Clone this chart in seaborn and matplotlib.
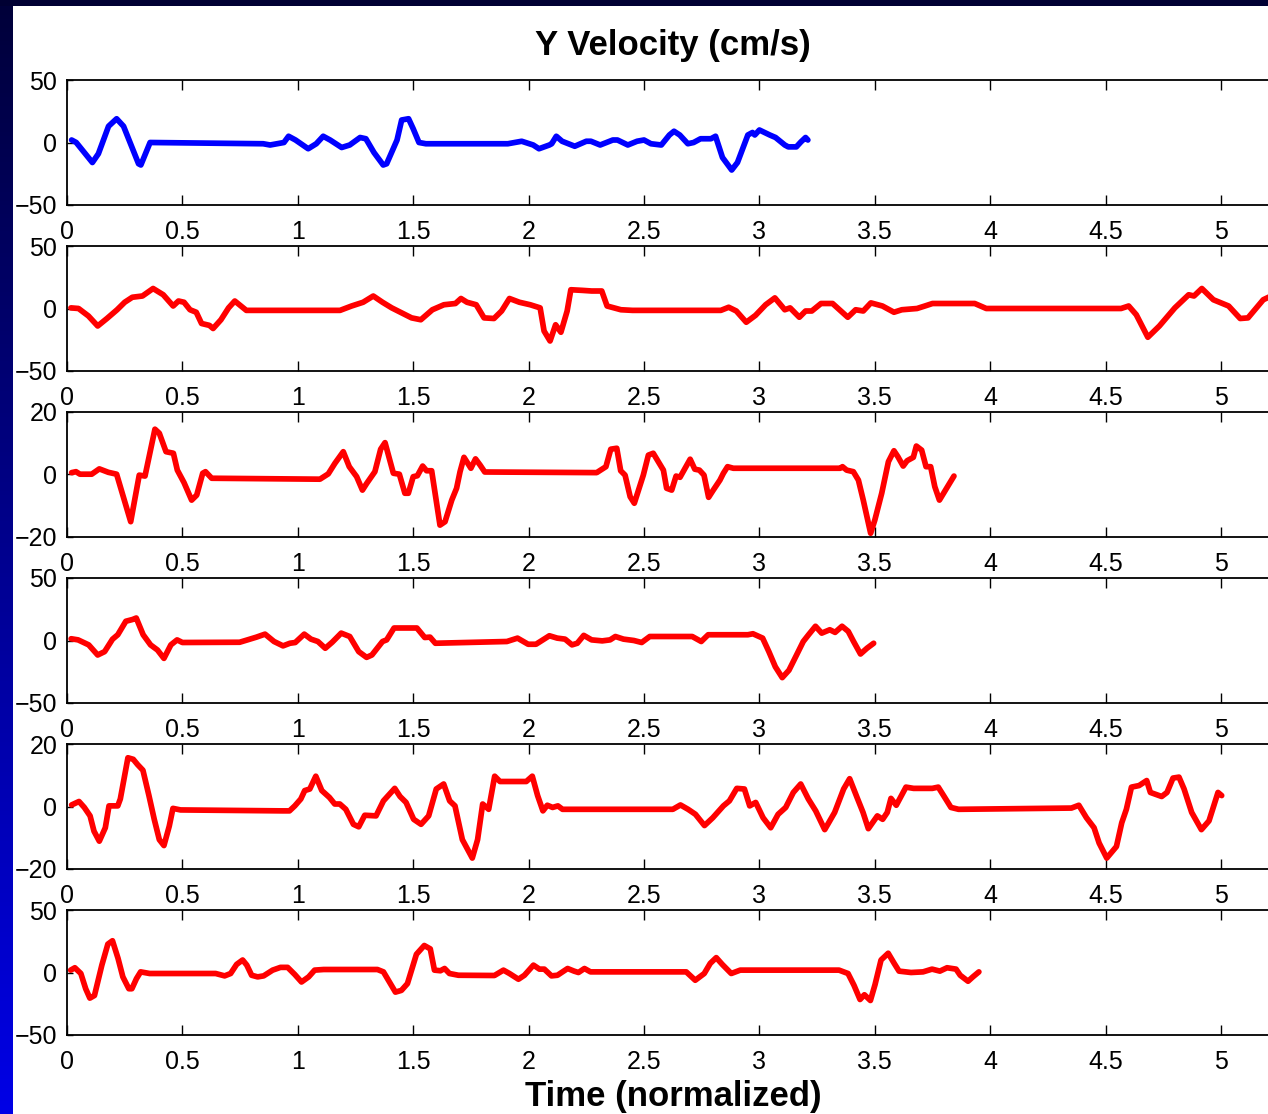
import numpy as np
import pandas as pd
import matplotlib
matplotlib.use("Agg")
import matplotlib.pyplot as plt
import seaborn as sns

sns.set_style("white")
plt.rcParams['font.family'] = ['Liberation Sans', 'DejaVu Sans']
plt.rcParams['text.color'] = 'black'
plt.rcParams['axes.labelcolor'] = 'black'

# trial 1 (blue)
t1 = [0.02, 0.04, 0.11, 0.136, 0.18, 0.215, 0.245, 0.31, 0.32, 0.36, 0.85, 0.88, 0.91, 0.94, 0.96, 0.99,
      1.045, 1.08, 1.11, 1.14, 1.19, 1.225, 1.27, 1.295, 1.33, 1.37, 1.385, 1.43, 1.45, 1.48, 1.50, 1.525,
      1.555, 1.91, 1.97, 2.02, 2.045, 2.09, 2.10, 2.12, 2.145, 2.2, 2.25, 2.27, 2.31, 2.365, 2.385, 2.43,
      2.47, 2.50, 2.53, 2.575, 2.61, 2.63, 2.655, 2.69, 2.715, 2.745, 2.79, 2.81, 2.84, 2.88, 2.905, 2.95,
      2.97, 2.98, 3.0, 3.045, 3.07, 3.11, 3.125, 3.16, 3.18, 3.2, 3.21]
v1 = [2, 0, -16, -9, 13, 19, 13, -17, -18, 0, -1, -2, -1, 0, 5, 2,
      -5, -1, 5, 2, -4, -2, 4, 3, -8, -18, -17, 2, 18, 19, 11, 0,
      -1, -1, 1, -2, -5, -2, -1, 5, 1, -3, 1, 1, -2, 2, 2, -2,
      1, 2, -1, -2, 6, 9, 6, -1, 0, 3, 3, 5, -12, -22, -16, 6,
      8, 6, 10, 6, 4, -2, -3.5, -3.5, 0.5, 4, 2]

# trial 2
t2 = [0.017, 0.05, 0.093, 0.133, 0.173, 0.217, 0.25, 0.283, 0.327, 0.373, 0.417, 0.46, 0.483, 0.507,
      0.533, 0.56, 0.583, 0.617, 0.633, 0.667, 0.70, 0.727, 0.777, 1.183, 1.233, 1.283, 1.327, 1.367,
      1.407, 1.45, 1.493, 1.533, 1.583, 1.633, 1.683, 1.707, 1.733, 1.773, 1.807, 1.85, 1.883, 1.917,
      1.96, 2.007, 2.05, 2.067, 2.093, 2.117, 2.14, 2.167, 2.183, 2.233, 2.273, 2.317, 2.34, 2.40, 2.45,
      2.833, 2.867, 2.9, 2.943, 2.983, 3.027, 3.067, 3.11, 3.133, 3.173, 3.20, 3.227, 3.267, 3.317,
      3.383, 3.417, 3.45, 3.483, 3.533, 3.583, 3.617, 3.683, 3.717, 3.75, 3.933, 3.983, 4.567, 4.6,
      4.633, 4.683, 4.733, 4.8, 4.86, 4.883, 4.917, 4.967, 5.033, 5.083, 5.117, 5.183, 5.24]
v2 = [0.5, 0, -6, -14, -8, -1, 5, 9, 10, 16, 11, 2, 6, 5,
      -1, -3, -12, -13.5, -16, -9, 0.5, 6, -1.5, -1.5, 2, 5, 10, 5,
      0.5, -3.5, -7.5, -9, -1, 3, 4, 8, 5, 3, -7.5, -8, -2, 8,
      5, 3, 0.5, -18, -26, -13, -19, -2, 15, 14.5, 14, 14, 2, -1, -1.5,
      -1.5, 1, -2, -11, -5.5, 3, 8.5, -1, 0.5, -7, -2, -2, 4, 4,
      -7, -1, -2, 4.5, 2, -3, -1, 0, 2, 4, 4, 0, 0, 2,
      -5, -23, -14, 0.5, 11, 10, 16, 7, 2, -8, -7.5, 7, 12]

# trial 3
t3 = [0.02, 0.039, 0.056, 0.107, 0.14, 0.179, 0.215, 0.276, 0.313, 0.338, 0.381, 0.40, 0.429, 0.461,
      0.478, 0.507, 0.54, 0.562, 0.588, 0.60, 0.627, 1.096, 1.132, 1.161, 1.197, 1.223, 1.255, 1.28,
      1.299, 1.334, 1.359, 1.378, 1.414, 1.44, 1.464, 1.479, 1.50, 1.518, 1.541, 1.558, 1.58, 1.616,
      1.638, 1.667, 1.688, 1.703, 1.72, 1.75, 1.77, 1.79, 1.81, 2.295, 2.335, 2.356, 2.382, 2.399,
      2.418, 2.44, 2.458, 2.497, 2.519, 2.54, 2.584, 2.598, 2.62, 2.639, 2.656, 2.678, 2.70, 2.72,
      2.74, 2.76, 2.78, 2.80, 2.829, 2.844, 2.862, 2.887, 3.35, 3.36, 3.378, 3.407, 3.429, 3.45,
      3.482, 3.50, 3.53, 3.559, 3.583, 3.60, 3.623, 3.64, 3.667, 3.68, 3.703, 3.722, 3.742, 3.76,
      3.78, 3.811, 3.843]
v3 = [0.6, 0.9, 0.1, 0.1, 1.8, 0.7, 0.1, -15.1, -0.2, -0.5, 14.5, 13.2, 7.3, 6.8,
      1.4, -2.6, -8.2, -6.6, 0.4, 0.9, -1.2, -1.5, 0.2, 3.6, 7.3, 2.5, -0.7, -5,
      -2.8, 0.9, 8.1, 10.2, 0.4, 0.1, -6, -6, -0.7, -0.4, 2.7, 1.2, 1.2, -16.2,
      -15.1, -8.2, -4.4, 0.9, 5.5, 2.0, 5.0, 3.0, 0.8, 0.6, 2.5, 8.1, 8.4, 1.2,
      -0.2, -7.1, -9.2, -0.2, 6.2, 6.8, 1.4, -4.4, -5, -0.5, -0.9, 2, 4.9, 1.7,
      1.4, -0.2, -7.3, -5, -1.8, 0.4, 2.5, 2, 2, 2.5, 1.4, 0.9, -1.8, -8.2,
      -18.8, -14.6, -6, 4.1, 7.6, 5.7, 2.7, 4.4, 5.5, 9.1, 7.8, 2.5, 2.5, -3.9,
      -8.2, -4.4, -0.5]

# trial 4
t4 = [0.018, 0.048, 0.094, 0.133, 0.163, 0.197, 0.22, 0.255, 0.284, 0.30, 0.33, 0.362, 0.392, 0.42,
      0.45, 0.477, 0.50, 0.748, 0.782, 0.821, 0.858, 0.897, 0.936, 0.966, 0.989, 1.028, 1.057, 1.087,
      1.119, 1.149, 1.188, 1.225, 1.264, 1.298, 1.321, 1.367, 1.385, 1.417, 1.459, 1.516, 1.55, 1.573,
      1.596, 1.906, 1.952, 1.998, 2.032, 2.09, 2.124, 2.158, 2.188, 2.211, 2.239, 2.273, 2.319, 2.353,
      2.376, 2.411, 2.456, 2.49, 2.525, 2.709, 2.748, 2.778, 2.95, 2.972, 3.014, 3.041, 3.069, 3.099,
      3.128, 3.161, 3.19, 3.213, 3.243, 3.27, 3.305, 3.328, 3.358, 3.385, 3.408, 3.438, 3.466, 3.495]
v4 = [1.4, 0.5, -3.5, -11.6, -8.9, 1, 4.6, 15.4, 16.8, 18, 4.6, -3.5, -7.6, -14.3,
      -3.5, 0.5, -1.6, -1.4, 0.5, 2.7, 5.1, -0.8, -4.3, -2.2, -1.6, 5.1, 1.1, -0.8,
      -6.2, -1.4, 5.9, 3.2, -8.9, -13.5, -11.6, -0.8, 0.5, 10, 10, 10, 2.4, 2.7,
      -2.2, -0.8, 1.9, -3, -3, 3.8, 1.9, 1.1, -3.5, -2.2, 4.1, 0.5, -0.3, 0.5,
      3.2, 1.1, 0, -1.6, 3.2, 3.2, -0.8, 4.6, 4.6, 5.4, 1.9, -8.9, -21, -29.7,
      -23.8, -11.6, -0.8, 4.6, 11.4, 5.9, 8.6, 6.5, 11.4, 7.3, -0.8, -10.8, -6.2, -2.2]

# trial 5
t5 = [0.02, 0.052, 0.075, 0.10, 0.117, 0.14, 0.166, 0.182, 0.22, 0.231, 0.264, 0.287, 0.306, 0.329,
      0.355, 0.378, 0.40, 0.42, 0.443, 0.459, 0.492, 0.932, 0.964, 0.987, 1.013, 1.03, 1.052, 1.078,
      1.104, 1.137, 1.16, 1.182, 1.208, 1.241, 1.264, 1.29, 1.339, 1.371, 1.42, 1.443, 1.469, 1.502,
      1.534, 1.567, 1.60, 1.632, 1.658, 1.681, 1.713, 1.756, 1.779, 1.801, 1.827, 1.853, 1.876, 1.925,
      1.99, 2.016, 2.039, 2.062, 2.081, 2.104, 2.127, 2.147, 2.625, 2.658, 2.691, 2.723, 2.762, 2.798,
      2.844, 2.87, 2.902, 2.935, 2.958, 2.984, 3.016, 3.049, 3.081, 3.114, 3.147, 3.179, 3.212, 3.244,
      3.283, 3.326, 3.365, 3.391, 3.423, 3.449, 3.472, 3.511, 3.534, 3.554, 3.57, 3.593, 3.635, 3.668,
      3.749, 3.775, 3.798, 3.83, 3.863, 4.352, 4.384, 4.417, 4.45, 4.472, 4.505, 4.547, 4.57, 4.59,
      4.612, 4.645, 4.678, 4.694, 4.743, 4.766, 4.792, 4.818, 4.84, 4.873, 4.915, 4.948, 4.987, 5.003]
v5 = [0.5, 1.6, -0.3, -3, -7.9, -11.1, -6.8, 0.2, 0.2, 2.4, 15.6, 15.1, 13.4, 11.6,
      3.5, -4.1, -10.6, -12.5, -6.3, -0.6, -1.1, -1.4, -1.4, 0.2, 2.4, 5.1, 5.6, 9.7,
      5.1, 2.9, 0.8, 0.8, -0.9, -5.7, -6.5, -2.8, -3, 1.8, 5.8, 3.2, 1.3, -4.1,
      -5.7, -3, 5.6, 7.2, 1.8, 0.2, -10.6, -16.5, -10.6, 0.8, -0.9, 9.7, 8, 8,
      8, 9.7, 3.5, -1.4, 0.4, -0.3, 0.2, -0.9, -0.9, 0.5, -0.9, -2.5, -6.1, -3.6,
      0.2, 1.8, 5.8, 5.6, 0.2, 1.3, -3.6, -6.8, -2.5, -0.3, 4.5, 7.2, 2.4, -1.4,
      -7.4, -1.9, 5.6, 8.9, 2.9, -1.9, -7.1, -3, -4.1, -1.9, 2.6, 0.4, 6.2, 5.8,
      5.8, 6.2, 3.5, -0.3, -0.9, -0.5, 0.4, -3.6, -6.8, -11.7, -16.5, -12.8, -5.2, -0.9,
      6.2, 6.7, 8.3, 4.5, 3.2, 4.5, 9.1, 9.4, 5.6, -1.9, -7.4, -4.6, 4.5, 3.5]

# trial 6
t6 = [0.016, 0.034, 0.06, 0.081, 0.099, 0.119, 0.151, 0.177, 0.197, 0.221, 0.242, 0.268, 0.281, 0.301,
      0.319, 0.358, 0.644, 0.683, 0.709, 0.735, 0.761, 0.779, 0.80, 0.826, 0.852, 0.891, 0.925, 0.956,
      0.987, 1.016, 1.047, 1.073, 1.112, 1.345, 1.371, 1.397, 1.423, 1.449, 1.475, 1.514, 1.548, 1.574,
      1.592, 1.618, 1.636, 1.657, 1.696, 1.852, 1.891, 1.917, 1.956, 1.982, 2.021, 2.047, 2.068, 2.099,
      2.125, 2.169, 2.197, 2.216, 2.242, 2.268, 2.683, 2.722, 2.761, 2.787, 2.813, 2.839, 2.878, 2.917,
      3.345, 3.384, 3.41, 3.436, 3.455, 3.481, 3.501, 3.527, 3.558, 3.584, 3.605, 3.657, 3.709, 3.748,
      3.782, 3.813, 3.852, 3.87, 3.904, 3.925, 3.951]
v6 = [1.9, 3.8, -0.8, -13, -20.5, -18.4, 5.9, 22.7, 25.4, 11.4, -3.5, -13, -13, -4.9,
      0.5, -0.8, -0.8, -2.7, -0.8, 6.5, 10, 5.9, -2.2, -3.5, -2.7, 1.9, 4.1, 4.1,
      -1.6, -7.6, -3.5, 1.9, 2.4, 2.4, 0.5, -7.6, -15.7, -14.3, -8.9, 14.6, 21.6, 18.9,
      1.9, 1.4, 3.2, -0.8, -2.2, -2.4, 1.9, -0.8, -5.4, -2.2, 5.9, 2.7, 2.7, -2.7,
      -2.2, 3.2, 1.1, 0, 3.2, 0.5, 0.5, -6.2, -0.8, 7.3, 11.9, 6.5, -0.8, 1.9,
      1.9, -0.8, -10.3, -21.6, -17.8, -22.4, -9.7, 10, 15.4, 7.3, 1.1, 0, 0.5, 2.7,
      1.1, 3.8, 2.7, -2.2, -7, -3.5, 0.5]

series = [(t1, v1), (t2, v2), (t3, v3), (t4, v4), (t5, v5), (t6, v6)]
colors = ["#0000ff", "#ff0000", "#ff0000", "#ff0000", "#ff0000", "#ff0000"]
ylims = [50, 50, 20, 50, 20, 50]
xticks = [0, 0.5, 1, 1.5, 2, 2.5, 3, 3.5, 4, 4.5, 5]

W, H = 1268, 1114
fig = plt.figure(figsize=(W / 100, H / 100), dpi=100, facecolor="white")

# slide decoration: dark top band and blue gradient strip on the left
deco = fig.add_axes([0, 0, 13 / W, 1 - 6 / H])
grad = np.linspace(0, 1, 256).reshape(-1, 1)
cmap = matplotlib.colors.LinearSegmentedColormap.from_list("slide", ["#00003a", "#0000e6"])
deco.imshow(grad, aspect="auto", cmap=cmap, origin="upper", extent=[0, 1, 0, 1])
deco.axis("off")
top = fig.add_axes([0, 1 - 6 / H, 1, 6 / H])
top.set_facecolor("#000033")
top.set_xticks([]); top.set_yticks([])
for s in top.spines.values():
    s.set_visible(False)

x_left = 67
x_unit = 230.8
x_max = 5.25
for i, ((t, v), c, yl) in enumerate(zip(series, colors, ylims)):
    top_px = 80 + 166 * i
    ax = fig.add_axes([x_left / W, 1 - (top_px + 125) / H, x_max * x_unit / W, 125 / H])
    df = pd.DataFrame({"t": t, "v": v})
    sns.lineplot(data=df, x="t", y="v", ax=ax, color=c, linewidth=4.1,
                 estimator=None, sort=False, solid_joinstyle="round", solid_capstyle="round")
    ax.set_xlim(0, x_max)
    ax.set_ylim(-yl, yl)
    ax.set_xticks(xticks)
    ax.set_xticklabels([f"{x:g}" for x in xticks])
    ax.set_yticks([-yl, 0, yl])
    ax.set_xlabel("")
    ax.set_ylabel("")
    ax.tick_params(axis="x", direction="in", top=True, bottom=True, length=7.5, width=1,
                   labelsize=18, pad=11, colors="black")
    ax.tick_params(axis="y", direction="in", left=True, right=True, length=4, width=1,
                   labelsize=18, pad=7, colors="black")
    for s in ax.spines.values():
        s.set_color("black")
        s.set_linewidth(1.3)
    if i == 0:
        ax.set_title("Y Velocity (cm/s)", fontsize=25, fontweight="bold", pad=18, color="black")
    if i == 5:
        ax.set_xlabel("Time (normalized)", fontsize=25, fontweight="bold", labelpad=4, color="black")

fig.savefig("out.png", dpi=100, facecolor="white")
